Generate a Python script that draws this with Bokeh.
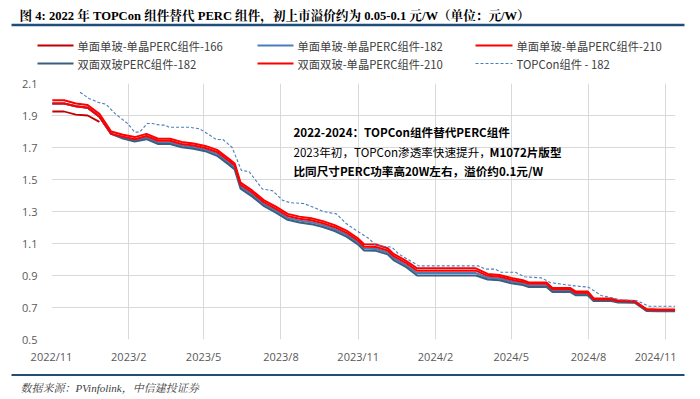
import pandas as pd
from bokeh.plotting import figure
from bokeh.layouts import column
from bokeh.models import (FixedTicker, CustomJSTickFormatter, Label, Arrow,
                          ColumnDataSource, Range1d)
from bokeh.embed import file_html
from bokeh.resources import INLINE

# ---------------- data ----------------
dates_main = ["2022-11-02", "2022-11-16", "2022-11-30", "2022-12-14", "2022-12-28",
              "2023-01-11", "2023-01-25", "2023-02-08", "2023-02-22", "2023-03-08",
              "2023-03-22", "2023-04-05", "2023-04-19", "2023-05-03", "2023-05-17",
              "2023-05-31", "2023-06-07", "2023-06-14", "2023-06-28", "2023-07-12",
              "2023-07-26", "2023-08-09", "2023-08-23", "2023-09-06", "2023-09-20",
              "2023-10-04", "2023-10-18", "2023-11-01", "2023-11-08", "2023-11-22",
              "2023-12-06", "2023-12-13", "2023-12-27", "2024-01-10", "2024-02-07",
              "2024-03-06", "2024-03-20", "2024-04-03", "2024-04-17", "2024-05-01",
              "2024-05-15", "2024-05-22", "2024-06-12", "2024-06-19", "2024-07-10",
              "2024-07-17", "2024-07-31", "2024-08-07", "2024-08-28", "2024-09-04",
              "2024-09-25", "2024-10-09", "2024-10-23", "2024-11-12"]

mono_210 = [1.995, 1.995, 1.975, 1.965, 1.91, 1.80, 1.78, 1.765, 1.785, 1.755,
            1.755, 1.735, 1.725, 1.71, 1.685, 1.63, 1.60, 1.48, 1.43, 1.37,
            1.33, 1.285, 1.268, 1.258, 1.24, 1.215, 1.18, 1.13, 1.095, 1.094,
            1.07, 1.035, 0.995, 0.945, 0.945, 0.945, 0.945, 0.91, 0.903, 0.885,
            0.87, 0.857, 0.857, 0.822, 0.822, 0.80, 0.80, 0.758, 0.756, 0.745,
            0.74, 0.69, 0.687, 0.687]

bif_210 = [1.975, 1.975, 1.958, 1.948, 1.893, 1.785, 1.768, 1.752, 1.772, 1.742,
           1.742, 1.722, 1.712, 1.697, 1.672, 1.617, 1.587, 1.467, 1.417, 1.357,
           1.317, 1.272, 1.255, 1.245, 1.227, 1.202, 1.167, 1.117, 1.08, 1.078,
           1.056, 1.021, 0.981, 0.93, 0.93, 0.93, 0.93, 0.898, 0.892, 0.874,
           0.86, 0.848, 0.848, 0.814, 0.814, 0.792, 0.792, 0.752, 0.75, 0.74,
           0.736, 0.686, 0.684, 0.684]

mono_182 = [1.975, 1.975, 1.958, 1.948, 1.893, 1.785, 1.762, 1.745, 1.762, 1.732,
            1.732, 1.712, 1.702, 1.687, 1.66, 1.605, 1.575, 1.455, 1.405, 1.345,
            1.305, 1.26, 1.243, 1.233, 1.215, 1.19, 1.155, 1.105, 1.068, 1.066,
            1.044, 1.008, 0.968, 0.915, 0.915, 0.915, 0.915, 0.886, 0.881, 0.863,
            0.85, 0.838, 0.838, 0.805, 0.805, 0.784, 0.784, 0.746, 0.745, 0.736,
            0.733, 0.682, 0.681, 0.681]

bif_182 = [1.975, 1.975, 1.958, 1.948, 1.893, 1.785, 1.756, 1.738, 1.752, 1.722,
           1.722, 1.702, 1.692, 1.677, 1.648, 1.593, 1.563, 1.443, 1.393, 1.333,
           1.293, 1.248, 1.231, 1.221, 1.203, 1.178, 1.143, 1.093, 1.056, 1.054,
           1.032, 0.996, 0.956, 0.90, 0.90, 0.90, 0.90, 0.875, 0.87, 0.852,
           0.84, 0.828, 0.828, 0.797, 0.797, 0.776, 0.776, 0.74, 0.74, 0.732,
           0.73, 0.678, 0.677, 0.677]

dates_166 = ["2022-11-02", "2022-11-16", "2022-11-30", "2022-12-14", "2022-12-28"]
mono_166 = [1.925, 1.925, 1.905, 1.90, 1.86]

dates_topcon = ["2022-12-05", "2022-12-16", "2022-12-28", "2023-01-05", "2023-01-16",
                "2023-01-31", "2023-02-08", "2023-02-14", "2023-02-23", "2023-03-01",
                "2023-03-10", "2023-03-16", "2023-03-21", "2023-04-14", "2023-04-26",
                "2023-05-06", "2023-05-16", "2023-05-24", "2023-06-04", "2023-06-15",
                "2023-06-24", "2023-07-10", "2023-07-22", "2023-08-03", "2023-08-12",
                "2023-08-28", "2023-09-07", "2023-09-20", "2023-10-06", "2023-10-18",
                "2023-11-02", "2023-11-14", "2023-11-22", "2023-12-11", "2023-12-19",
                "2024-01-12", "2024-03-23", "2024-03-31", "2024-04-12", "2024-04-19",
                "2024-05-06", "2024-05-17", "2024-06-06", "2024-06-17", "2024-07-16",
                "2024-08-01", "2024-08-16", "2024-08-27", "2024-09-08", "2024-09-28",
                "2024-10-12", "2024-11-12"]
topcon_182 = [2.045, 2.005, 1.98, 1.97, 1.91, 1.848, 1.796, 1.796, 1.85, 1.85,
              1.84, 1.84, 1.827, 1.827, 1.817, 1.785, 1.75, 1.75, 1.70, 1.556,
              1.55, 1.44, 1.43, 1.37, 1.355, 1.35, 1.33, 1.30, 1.285, 1.223,
              1.17, 1.13, 1.087, 1.077, 1.035, 0.96, 0.96, 0.94, 0.94, 0.92,
              0.92, 0.892, 0.885, 0.855, 0.835, 0.827, 0.775, 0.762, 0.748, 0.742,
              0.708, 0.708]

x_ticks = ["2022-11-01", "2023-02-01", "2023-05-01", "2023-08-01", "2023-11-01",
           "2024-02-01", "2024-05-01", "2024-08-01", "2024-11-01"]
y_ticks = [0.5, 0.7, 0.9, 1.1, 1.3, 1.5, 1.7, 1.9, 2.1]

legend_names = ["单面单玻-单晶PERC组件-166", "单面单玻-单晶PERC组件-182",
                "单面单玻-单晶PERC组件-210", "双面双玻PERC组件-182",
                "双面双玻-单晶PERC组件-210", "TOPCon组件 - 182"]

title_text = "图 4: 2022 年 TOPCon 组件替代 PERC 组件，初上市溢价约为 0.05-0.1 元/W（单位：元/W）"
source_text = "数据来源：PVinfolink，中信建投证券"

SERIF = "Liberation Serif, Noto Serif CJK SC, Noto Sans CJK SC"
SANS = "Noto Sans CJK SC"
RED = "#ff0000"
DRED = "#c00000"
BLUE = "#4a7ebb"
DBLUE = "#3b5f80"
RULE = "#1f4e79"

W = 700
TOP_H = 72          # header strip: page y 0..72
MAIN_BOTTOM = 368   # main chart: page y 72..368
BOT_H = 399 - MAIN_BOTTOM


def blank_fig(h):
    f = figure(width=W, height=h, output_backend="svg", toolbar_location=None,
               x_axis_type=None, y_axis_type=None,
               min_border=0, min_border_left=0, min_border_right=0,
               min_border_top=0, min_border_bottom=0,
               x_range=Range1d(0, W), y_range=Range1d(0, h))
    f.frame_align = False
    f.outline_line_color = None
    f.grid.visible = False
    f.background_fill_color = "white"
    f.border_fill_color = "white"
    return f


def hline(f, h, x0, x1, y, color, width, dash="solid"):
    f.add_layout(Arrow(end=None, x_start=x0, y_start=h - y, x_end=x1, y_end=h - y,
                       start_units="screen", end_units="screen",
                       line_color=color, line_width=width, line_dash=dash))


def text(f, h, x, y, s, font, size, color, style="normal"):
    f.add_layout(Label(x=x, y=h - y, x_units="screen", y_units="screen", text=s,
                       text_font=font, text_font_size=size, text_color=color,
                       text_font_style=style, text_baseline="middle"))


# ---------------- header (title + legend) ----------------
top = blank_fig(TOP_H)
text(top, TOP_H, 19, 15, title_text, SERIF, "12.6px", "#000000", "bold")
hline(top, TOP_H, 11, 684, 24.5, RULE, 2.5)

leg_colors = [DRED, BLUE, RED, DBLUE, RED, BLUE]
leg_dash = ["solid", "solid", "solid", "solid", "solid", "3 2"]
leg_width = [2.0, 2.0, 2.0, 2.0, 2.0, 1.1]
col_line = [(37, 73), (257, 293), (475, 512)]
col_text = [77, 297, 516]
row_y = [45, 63]
for i, name in enumerate(legend_names):
    r, c = divmod(i, 3)
    hline(top, TOP_H, col_line[c][0], col_line[c][1], row_y[r],
          leg_colors[i], leg_width[i], leg_dash[i])
    text(top, TOP_H, col_text[c], row_y[r], name, SANS, "11.3px", "#404040")

# ---------------- main chart ----------------
FL, FR, FT, FB = 51, 675, 83, 339
MAIN_W = 676
MAIN_H = MAIN_BOTTOM - TOP_H

p = figure(width=MAIN_W, height=MAIN_H, x_axis_type="datetime",
           x_range=Range1d(pd.Timestamp("2022-11-01"), pd.Timestamp("2024-11-12 12:00")),
           y_range=Range1d(0.5, 2.1),
           output_backend="svg", toolbar_location=None,
           min_border_left=FL, min_border_right=MAIN_W - FR,
           min_border_top=FT - TOP_H, min_border_bottom=MAIN_BOTTOM - FB)
p.frame_align = False
p.outline_line_color = None
p.background_fill_color = "white"
p.border_fill_color = "white"

tick_ms = [pd.Timestamp(t).value // 10**6 for t in x_ticks]
p.xaxis.ticker = FixedTicker(ticks=tick_ms)
p.xgrid.ticker = FixedTicker(ticks=tick_ms)
p.xaxis.formatter = CustomJSTickFormatter(code="""
const d = new Date(tick);
return d.getUTCFullYear() + "/" + (d.getUTCMonth() + 1);
""")
p.yaxis.ticker = FixedTicker(ticks=y_ticks)
p.ygrid.ticker = FixedTicker(ticks=y_ticks)

for ax in (p.xaxis, p.yaxis):
    ax.axis_line_color = None
    ax.major_tick_line_color = None
    ax.minor_tick_line_color = None
    ax.major_tick_out = 0
    ax.major_tick_in = 0
    ax.major_label_text_font = "Open Sans"
    ax.major_label_text_font_size = "11px"
    ax.major_label_text_color = "#595959"
p.xaxis.major_label_standoff = 9
p.yaxis.major_label_standoff = 14

p.xgrid.grid_line_color = "#d9d9d9"
p.ygrid.grid_line_color = "#d9d9d9"
p.xgrid.grid_line_width = 1
p.ygrid.grid_line_width = 1

src_main = ColumnDataSource(dict(date=pd.to_datetime(dates_main), m210=mono_210,
                                 b210=bif_210, m182=mono_182, b182=bif_182))
src_166 = ColumnDataSource(dict(date=pd.to_datetime(dates_166), v=mono_166))
src_top = ColumnDataSource(dict(date=pd.to_datetime(dates_topcon), v=topcon_182))

p.line("date", "v", source=src_166, line_color=DRED, line_width=1.8)
p.line("date", "m182", source=src_main, line_color=BLUE, line_width=2.0)
p.line("date", "m210", source=src_main, line_color=RED, line_width=2.0)
p.line("date", "b182", source=src_main, line_color=DBLUE, line_width=2.0)
p.line("date", "b210", source=src_main, line_color=RED, line_width=2.0)
p.line("date", "v", source=src_top, line_color=BLUE, line_width=1.1, line_dash="3 2")


def ann(X, Y, s, style="normal"):
    p.add_layout(Label(x=X - FL, y=FB - Y, x_units="screen", y_units="screen", text=s,
                       text_font=SANS, text_font_size="11.6px", text_color="#000000",
                       text_font_style=style, text_baseline="middle"))


ann(293, 131, "2022-2024：TOPCon组件替代PERC组件", "bold")
ann(293, 151, "2023年初，TOPCon渗透率快速提升，")
ann(489, 151, "M1072片版型", "bold")
ann(293, 170, "比同尺寸PERC功率高20W左右，溢价约0.1元/W", "bold")

# ---------------- footer (source) ----------------
bot = blank_fig(BOT_H)
hline(bot, BOT_H, 11, 684, 374.5 - MAIN_BOTTOM, RULE, 2)
text(bot, BOT_H, 20, 387 - MAIN_BOTTOM, source_text, SERIF, "11px", "#404040", "italic")

layout = column(top, p, bot, spacing=0)
open("out.html", "w").write(file_html(layout, INLINE))
